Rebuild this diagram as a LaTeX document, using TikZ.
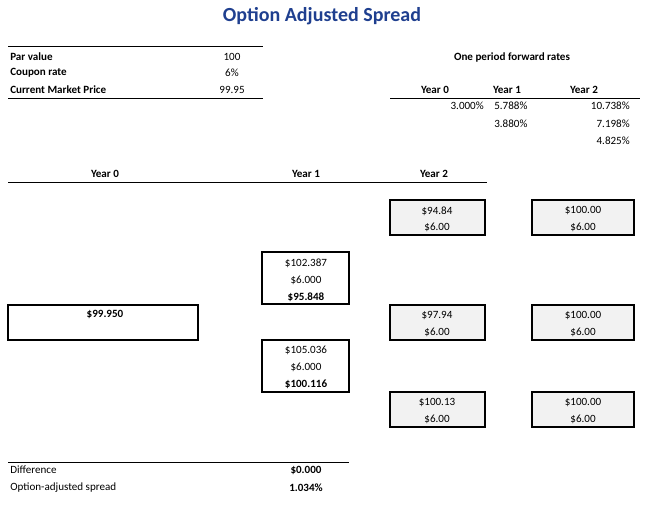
\documentclass[tikz,border=0pt]{standalone}
\usepackage{fontspec}
\setmainfont{Carlito}
\definecolor{ttl}{HTML}{1F3F8F}
\definecolor{boxgray}{HTML}{F2F2F2}
\begin{document}
\begin{tikzpicture}[x=0.75pt,y=-0.75pt,
  txt/.style={inner sep=0pt,font=\fontsize{8.3}{10}\selectfont},
  bt/.style={txt,font=\fontsize{8.3}{10}\selectfont\bfseries},
  rule/.style={line width=0.6pt},
  cell/.style={draw=black,line width=1.4pt},
  gcell/.style={cell,fill=boxgray}]
\useasboundingbox (0,0) rectangle (659,510);
\node[font=\fontsize{15}{18}\selectfont\bfseries,text=ttl] (title) at (322,16) {Option Adjusted Spread};
\draw[rule] (8,46) -- (263,46);
\draw[rule] (8,98) -- (263,98);
\node[bt,anchor=west] (pv) at (10,57) {Par value};
\node[bt,anchor=west] (cr) at (10,73) {Coupon rate};
\node[bt,anchor=west] (cmp) at (10,90) {Current Market Price};
\node[txt] (pvv) at (232,57) {100};
\node[txt] (crv) at (232,73) {6\%};
\node[txt] (cmpv) at (232,90) {99.95};
\node[bt] (fr) at (512,57) {One period forward rates};
\node[bt] (h0) at (435,90) {Year 0};
\node[bt] (h1) at (507,90) {Year 1};
\node[bt] (h2) at (584,90) {Year 2};
\draw[rule] (390,98) -- (640,98);
\node[txt,anchor=east] (r00) at (484,106) {3.000\%};
\node[txt,anchor=west] (r10) at (494,106) {5.788\%};
\node[txt,anchor=east] (r20) at (630,106) {10.738\%};
\node[txt,anchor=west] (r11) at (494,124) {3.880\%};
\node[txt,anchor=east] (r21) at (630,124) {7.198\%};
\node[txt,anchor=east] (r22) at (630,141) {4.825\%};
\node[bt] (t0) at (105,174) {Year 0};
\node[bt] (t1) at (306,174) {Year 1};
\node[bt] (t2) at (434,174) {Year 2};
\draw[rule] (8,182) -- (487,182);
% year 2 and 3 boxes
\foreach \y/\v [count=\i] in {200/94.84,305/97.94,392/100.13}{
  \draw[gcell] (390,\y) rectangle (485,\y+35);
  \node[txt] (a\i) at (437,\y+11) {\$\v};
  \node[txt] (b\i) at (437,\y+27) {\$6.00};
  \draw[gcell] (532,\y) rectangle (634,\y+35);
  \node[txt] (c\i) at (583,\y+11) {\$100.00};
  \node[txt] (d\i) at (583,\y+27) {\$6.00};
}
% year 1 boxes
\draw[cell] (262,252) rectangle (349,304);
\node[txt] (u1) at (306,263) {\$102.387};
\node[txt] (u2) at (306,280) {\$6.000};
\node[bt] (u3) at (306,297) {\$95.848};
\draw[cell] (262,340) rectangle (349,392);
\node[txt] (l1) at (306,350) {\$105.036};
\node[txt] (l2) at (306,367) {\$6.000};
\node[bt] (l3) at (306,384) {\$100.116};
% year 0
\draw[cell] (8,305) rectangle (198,340);
\node[bt] (root) at (105,314) {\$99.950};
% bottom
\draw[rule] (8,462) -- (349,462);
\node[txt,anchor=west] (dif) at (10,470) {Difference};
\node[txt,anchor=west] (oas) at (10,488) {Option-adjusted spread};
\node[bt] (difv) at (306,470) {\$0.000};
\node[bt] (oasv) at (306,488) {1.034\%};
\end{tikzpicture}
\end{document}
